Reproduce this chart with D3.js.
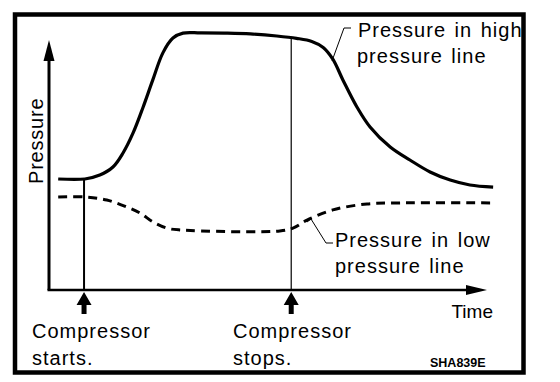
<!DOCTYPE html>
<html>
<head>
<meta charset="utf-8">
<script src="https://cdn.jsdelivr.net/npm/d3@7"></script>
<style>
  body { margin: 0; background: #fff; }
  svg text { font-family: "Liberation Sans", Arial, sans-serif; fill: #000; }
</style>
</head>
<body>
<svg id="chart" width="560" height="382"></svg>
<script>
// high pressure line: [time, pressure]
const highTime = [2.1, 8.2, 11.6, 14.6, 16.9, 19.2, 21.5, 23.7, 26.0, 28.3, 30.6, 34.5, 40.0, 46.0, 52.0, 56.5, 60.0, 62.6, 64.8, 67.1, 70.3, 73.3, 77.9, 82.4, 87.0, 91.6, 96.1, 101.4];
const highPressure = [42.7, 42.7, 44.2, 47.3, 52.7, 60.4, 70.4, 80.8, 91.2, 96.9, 98.8, 98.9, 98.8, 98.5, 97.7, 96.8, 95.6, 93.3, 88.8, 80.8, 70.4, 62.7, 55.0, 50.0, 45.4, 42.3, 40.4, 39.6];

// low pressure line
const lowTime = [2.1, 8.2, 13.2, 17.8, 20.8, 23.7, 26.9, 29.9, 52.7, 55.7, 58.9, 64.8, 72.6, 80.1, 101.4];
const lowPressure = [35.8, 35.8, 34.6, 31.9, 29.6, 26.2, 23.8, 23.1, 22.7, 23.8, 26.9, 30.8, 33.1, 33.5, 33.5];

// compressor events
const eventTime = [8.0, 55.3];
const eventTop = [42.7, 96.9];
const eventLabel = [["Compressor", "starts."], ["Compressor", "stops."]];

const svg = d3.select("#chart");

const x = d3.scaleLinear().domain([0, 100]).range([49, 487]);
const y = d3.scaleLinear().domain([0, 100]).range([290, 30]);

// frame
svg.append("rect")
  .attr("x", 15).attr("y", 14.5)
  .attr("width", 508.5).attr("height", 358)
  .attr("fill", "none").attr("stroke", "#000").attr("stroke-width", 4.5);

// axes with arrow heads
svg.append("line")
  .attr("x1", x(0)).attr("y1", y(0)).attr("x2", x(0)).attr("y2", 58)
  .attr("stroke", "#000").attr("stroke-width", 3);
svg.append("path")
  .attr("d", `M${x(0)},40 L${x(0) - 5.5},61 L${x(0) + 5.5},61 Z`)
  .attr("fill", "#000");
svg.append("line")
  .attr("x1", x(0) - 1.5).attr("y1", y(0)).attr("x2", x(96)).attr("y2", y(0))
  .attr("stroke", "#000").attr("stroke-width", 2.5);
svg.append("path")
  .attr("d", `M${x(100)},${y(0)} L${x(100) - 21},${y(0) - 5} L${x(100) - 21},${y(0) + 5} Z`)
  .attr("fill", "#000");

// event lines and arrows
eventTime.forEach((t, i) => {
  svg.append("line")
    .attr("x1", x(t)).attr("x2", x(t))
    .attr("y1", y(eventTop[i])).attr("y2", y(0))
    .attr("stroke", "#000").attr("stroke-width", i === 0 ? 2 : 1.2);
  const cx = x(t);
  svg.append("path")
    .attr("d", `M${cx},${y(0) + 2} L${cx - 7.5},${y(0) + 15} L${cx - 2.5},${y(0) + 15} L${cx - 2.5},${y(0) + 24} L${cx + 2.5},${y(0) + 24} L${cx + 2.5},${y(0) + 15} L${cx + 7.5},${y(0) + 15} Z`)
    .attr("fill", "#000");
  const tx = i === 0 ? 32 : 233;
  eventLabel[i].forEach((s, j) => {
    svg.append("text")
      .attr("x", tx).attr("y", 338 + j * 27)
      .style("font-size", "20px").style("letter-spacing", "1px")
      .text(s);
  });
});

const line = d3.line()
  .x((d) => x(d[0]))
  .y((d) => y(d[1]))
  .curve(d3.curveCatmullRom.alpha(0.5));

svg.append("path")
  .datum(highTime.map((t, i) => [t, highPressure[i]]))
  .attr("d", line)
  .attr("fill", "none").attr("stroke", "#000").attr("stroke-width", 3.2);

svg.append("path")
  .datum(lowTime.map((t, i) => [t, lowPressure[i]]))
  .attr("d", line)
  .attr("fill", "none").attr("stroke", "#000").attr("stroke-width", 3)
  .attr("stroke-dasharray", "9,6");

// leader lines
svg.append("path")
  .attr("d", "M351,28 L344,28 L332,61")
  .attr("fill", "none").attr("stroke", "#000").attr("stroke-width", 1);
svg.append("path")
  .attr("d", "M307,222 L311,219 L326,243 L333,243")
  .attr("fill", "none").attr("stroke", "#000").attr("stroke-width", 1);

// series labels
const labels = [
  ["Pressure in high", 358, 37],
  ["pressure line", 357, 63],
  ["Pressure in low", 335, 247],
  ["pressure line", 335, 273]
];
labels.forEach((l) => {
  svg.append("text")
    .attr("x", l[1]).attr("y", l[2])
    .style("font-size", "20px").style("letter-spacing", "1px")
    .style("word-spacing", "2px")
    .text(l[0]);
});

// axis titles
svg.append("text")
  .attr("transform", "translate(43,184) rotate(-90)")
  .style("font-size", "20px").style("letter-spacing", "0.8px")
  .text("Pressure");

svg.append("text")
  .attr("x", 493).attr("y", 318)
  .attr("text-anchor", "end")
  .style("font-size", "19px")
  .text("Time");

svg.append("text")
  .attr("x", 430).attr("y", 367)
  .style("font-size", "12.5px").style("font-weight", "bold")
  .text("SHA839E");
</script>
</body>
</html>
